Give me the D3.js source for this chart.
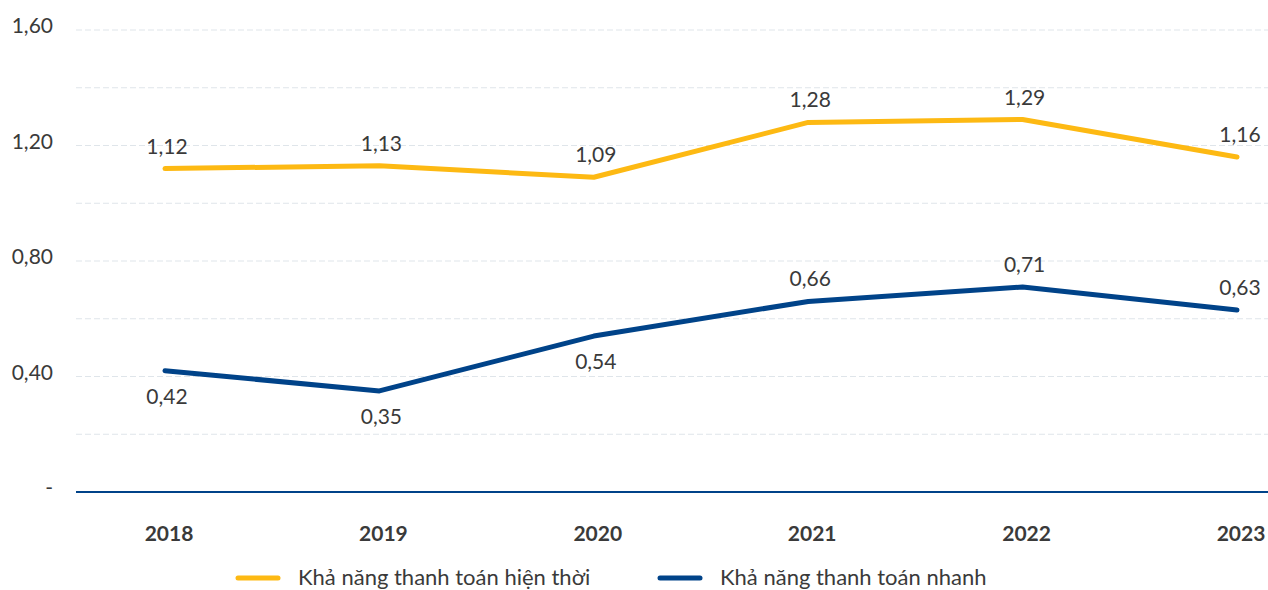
<!DOCTYPE html>
<html lang="vi">
<head>
    <meta charset="UTF-8">
    <title>Khả năng thanh toán</title>
    <style>
        body { margin: 0; background: #fff; }
        svg { display: block; font-family: Lato, "Open Sans", sans-serif; }
        .grid line { stroke: #dfe5ea; stroke-dasharray: 6 3; }
        .ytick { font-size: 21px; fill: #3a3a3a; }
        .year { font-size: 21px; font-weight: bold; fill: #3a3a3a; }
        .val { font-size: 21px; fill: #3a3a3a; }
        .legend text { font-size: 22px; fill: #3a3a3a; }
    </style>
    <script src="https://d3js.org/d3.v7.min.js"></script>
</head>
<body>
<div id="graph"></div>
<script>
    const years = ["2018", "2019", "2020", "2021", "2022", "2023"];
    const currentRatio = [1.12, 1.13, 1.09, 1.28, 1.29, 1.16];
    const quickRatio = [0.42, 0.35, 0.54, 0.66, 0.71, 0.63];
    const yTicks = [0, 0.2, 0.4, 0.6, 0.8, 1.0, 1.2, 1.4, 1.6];
    const yLabelTicks = [0, 0.4, 0.8, 1.2, 1.6];

    const width = 1268, height = 590;
    const svg = d3.select("#graph").append("svg")
        .attr("width", width).attr("height", height);

    const x = d3.scalePoint().domain(years).range([165, 1237]);
    const y = d3.scaleLinear().domain([0, 1.6]).range([492, 30]);

    const fmt = v => v === 0 ? "-" : d3.format(".2f")(v).replace(".", ",");

    // dashed grid
    svg.append("g").attr("class", "grid")
        .selectAll("line").data(yTicks.slice(1)).enter().append("line")
        .attr("x1", 76).attr("x2", width)
        .attr("y1", d => y(d)).attr("y2", d => y(d));

    svg.selectAll(".ytick").data(yLabelTicks).enter().append("text")
        .attr("class", "ytick")
        .attr("x", 53).attr("y", d => y(d) + 3)
        .attr("text-anchor", "end")
        .text(fmt);

    // baseline
    svg.append("line")
        .attr("x1", 76).attr("x2", width)
        .attr("y1", y(0)).attr("y2", y(0))
        .attr("stroke", "#004389").attr("stroke-width", 2);

    svg.selectAll(".year").data(years).enter().append("text")
        .attr("class", "year")
        .attr("x", d => x(d) + 4).attr("y", 541)
        .attr("text-anchor", "middle")
        .text(d => d);

    const series = [
        { values: currentRatio, color: "#fdb913", name: "Khả năng thanh toán hiện thời" },
        { values: quickRatio, color: "#004389", name: "Khả năng thanh toán nhanh" }
    ];

    const line = d3.line()
        .x((d, i) => x(years[i]))
        .y(d => y(d));

    series.forEach((s, si) => {
        svg.append("path")
            .datum(s.values)
            .attr("d", line)
            .attr("fill", "none")
            .attr("stroke", s.color)
            .attr("stroke-width", 5)
            .attr("stroke-linecap", "round")
            .attr("stroke-linejoin", "round");

        svg.selectAll(".val-" + si).data(s.values).enter().append("text")
            .attr("class", "val val-" + si)
            .attr("x", (d, i) => x(years[i]) + (i === years.length - 1 ? 3 : 2))
            .attr("y", (d, i) => {
                const below = si === 1 && i < 3;
                return below ? y(d) + 33 : y(d) - 15;
            })
            .attr("text-anchor", "middle")
            .text(fmt);
    });

    // legend
    const legend = svg.append("g").attr("class", "legend");
    const legendX = [238, 660];
    series.forEach((s, i) => {
        legend.append("line")
            .attr("x1", legendX[i]).attr("x2", legendX[i] + 40)
            .attr("y1", 578).attr("y2", 578)
            .attr("stroke", s.color).attr("stroke-width", 5)
            .attr("stroke-linecap", "round");
        legend.append("text")
            .attr("x", legendX[i] + 60).attr("y", 585)
            .text(s.name);
    });
</script>
</body>
</html>
